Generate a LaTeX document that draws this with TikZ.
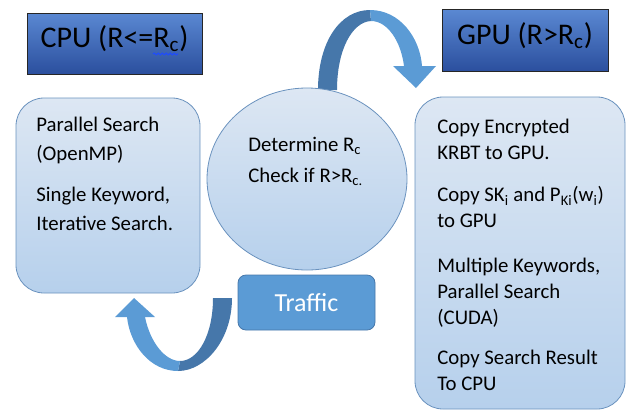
\documentclass[tikz,border=0pt]{standalone}
\usepackage{fontspec}
\setmainfont{Carlito}
\usetikzlibrary{positioning}
\usetikzlibrary{calc}
\usetikzlibrary{shapes.geometric}
\usetikzlibrary{decorations.pathmorphing}

\definecolor{titletop}{HTML}{5A88D2}
\definecolor{titlebot}{HTML}{2B4F9E}
\definecolor{paletop}{HTML}{DDE7F3}
\definecolor{palebot}{HTML}{B6D0EC}
\definecolor{paleline}{HTML}{6A92BE}
\definecolor{arrowlight}{HTML}{5B9BD5}
\definecolor{arrowdark}{HTML}{4677AA}
\definecolor{spellblue}{HTML}{1E4BFF}

\begin{document}
\begin{tikzpicture}[x=0.75pt,y=-0.75pt,semithick]
		\tikzstyle{title}=[draw=black!85,top color=titletop,bottom color=titlebot,
			inner sep=0pt,text height=15pt,text depth=9pt,font=\fontsize{22.5}{27}\selectfont]
		\tikzstyle{panel}=[draw=paleline,top color=paletop,bottom color=palebot,
			rounded corners=21pt,inner sep=0pt]
		\tikzstyle{panel text}=[anchor=north west,align=left,inner sep=0pt,
			font=\fontsize{15.6}{21}\selectfont]
		\useasboundingbox (0,0) rectangle (630,411);
		
		% curved arrows
		\fill[arrowdark] (318,90) .. controls (318,42) and (340,10) .. (370,10)
			-- (371,21) .. controls (352,22) and (337,50) .. (337,90) -- cycle;
		\fill[arrowlight] (370,10) .. controls (400,10) and (420,38) .. (422,66)
			-- (436,66) -- (416,88) -- (393,66) -- (404,66)
			.. controls (401,42) and (388,21) .. (371,21) -- cycle;
		\fill[arrowdark] (232,298) .. controls (232,340) and (205,371) .. (178,371)
			-- (180,361) .. controls (198,361) and (213,335) .. (213,298) -- cycle;
		\fill[arrowlight] (178,371) .. controls (150,371) and (130,345) .. (127,317)
			-- (115,317) -- (134,298) -- (155,317) -- (145,317)
			.. controls (150,342) and (165,361) .. (180,361) -- cycle;
		
		\node[title, minimum width=131.25pt, minimum height=45.75pt] (cpu) at (114.5,43.5)
			{CPU (R<=R\textsubscript{c})};
		\node[title, minimum width=124.5pt, minimum height=46.5pt] (gpu) at (525,40.5)
			{GPU (R>R\textsubscript{c})};
		\draw[spellblue, line width=0.8pt, decorate, decoration={snake, amplitude=0.7pt, segment length=3pt}]
			(153,54) -- (178,54);
		
		\node[panel, minimum width=138pt, minimum height=146.25pt] (cpubox) at (108,195.5) {};
		\node[panel, minimum width=157.5pt, minimum height=234pt] (gpubox) at (520,253) {};
		\node[ellipse, draw=paleline, top color=paletop, bottom color=palebot,
			minimum width=150pt, minimum height=136.5pt] (check) at (307,179) {};
		\node[draw=arrowdark, fill=arrowlight, rounded corners=6pt, text=white,
			minimum width=102.75pt, minimum height=41.25pt,
			font=\fontsize{19.5}{24}\selectfont] (traffic) at (306.5,302.5) {Traffic};
		
		\node[panel text, font=\fontsize{15.6}{21.5}\selectfont] (cputext) at (36,117)
			{Parallel Search\\(OpenMP)\\[9.5pt]
			Single Keyword,\\Iterative Search.};
		\node[panel text] (checktext) at (248,137) {Determine R\textsubscript{c}\\[2pt]
			Check if R>R\textsubscript{c.}};
		\node[panel text, font=\fontsize{15.6}{19.5}\selectfont] (gputext) at (437,119)
			{Copy Encrypted\\KRBT to GPU.\\[12pt]
			Copy SK\textsubscript{i} and P\textsubscript{Ki}(w\textsubscript{i})\\to GPU\\[14pt]
			Multiple Keywords,\\Parallel Search\\(CUDA)\\[10.5pt]
			Copy Search Result\\To CPU};
		\end{tikzpicture}
\end{document}
